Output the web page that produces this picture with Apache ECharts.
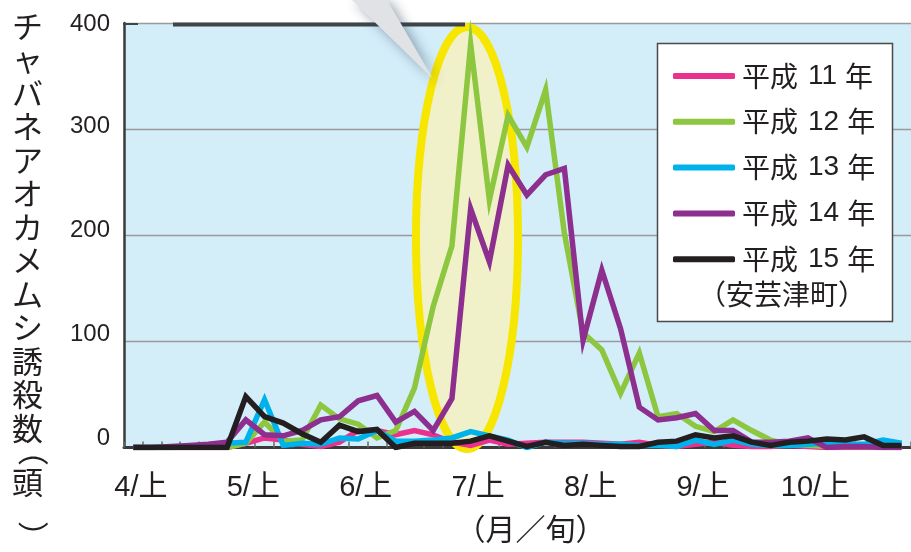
<!DOCTYPE html>
<html><head><meta charset="utf-8">
<script src="https://cdn.jsdelivr.net/npm/echarts@6/dist/echarts.min.js"></script>
<style>html,body{margin:0;padding:0;background:#fff}#c{width:911px;height:552px}</style>
</head><body><div id="c"></div>
<script>
// categories: 半旬 (5-day periods), 6 per month, April–October
const months = [4, 5, 6, 7, 8, 9, 10];
const halfDecadeNames = ['上1', '上2', '中1', '中2', '下1', '下2'];
const monthTickLabels = ['4/上', '5/上', '6/上', '7/上', '8/上', '9/上', '10/上'];
const seriesNames = ['平成11年', '平成12年', '平成13年', '平成14年', '平成15年'];
const h11 = [0,0,0,0,0,0,4,9,7,3,1,5,16,16,12,16,12,5,2,7,3,4,5,5,5,4,3,5,2,1,3,5,2,1,1,2,1,0,0,0,0,0];
const h12 = [0,0,0,0,0,0,4,24,6,7,40,27,22,9,16,56,133,190,380,233,313,283,337,202,108,92,51,89,29,32,20,15,26,16,7,3,2,1,1,1,0,0];
const h13 = [0,0,0,1,2,4,5,45,2,4,3,9,8,16,6,6,7,9,15,11,7,0,5,4,4,3,3,2,2,1,7,3,7,3,2,2,3,4,3,3,7,4];
const h14 = [0,0,1,2,3,5,26,12,11,16,26,29,44,49,24,34,16,46,225,175,266,238,257,263,101,167,112,38,26,28,32,16,16,5,5,6,9,0,1,1,0,0];
const h15 = [0,0,0,0,0,0,48,29,23,13,5,21,15,17,0,4,4,4,6,11,6,1,5,2,3,2,1,1,5,6,12,9,11,5,2,5,6,8,7,10,2,2];
const yTicks = [0, 100, 200, 300, 400];
const yTitle = 'チャバネアオカメムシ誘殺数';
const legendNote = '（安芸津町）';

const categories = [];
months.forEach(m => halfDecadeNames.forEach(h => categories.push(m + '月' + h)));
const values = [h11, h12, h13, h14, h15];
const colors = ['#e9318d', '#8dc63f', '#00b2ec', '#8c2f8e', '#231f20'];

const FONT = "'Liberation Sans','Noto Sans CJK JP',sans-serif";
const CJK = "'Noto Sans CJK JP','Liberation Sans',sans-serif";

const chart = echarts.init(document.getElementById('c'), null, {renderer: 'canvas'});

// small vertical nudges of the y tick labels (as in the printed figure)
const yLabRich = {
  y0: {padding: [0, 0, 18, 0]}, y100: {padding: [0, 0, 14, 0]}, y200: {padding: [0, 0, 10, 0]},
  y300: {padding: [0, 0, 5, 0]}, y400: {padding: [3, 0, 0, 0]}
};

const option = {
  animation: false,
  backgroundColor: '#ffffff',
  color: colors,
  grid: {left: 124, right: 0, top: 23, bottom: 104.5, show: true, backgroundColor: '#d3edf9',
    borderWidth: 0, z: 0, containLabel: false, outerBoundsMode: 'none'},
  xAxis: {
    type: 'category', data: categories, boundaryGap: true,
    axisLine: {show: true, lineStyle: {color: '#3a3a3a', width: 3}},
    axisTick: {show: true, interval: 0, inside: true, length: 6, lineStyle: {color: '#6a6a6a', width: 1.5}},
    axisLabel: {
      interval: i => i % 6 === 0,
      margin: 26,
      formatter: (v, i) => '{s|}{t|' + monthTickLabels[Math.floor(i / 6)] + '}',
      rich: {
        s: {width: 15},
        t: {width: 85, align: 'left', fontSize: 29, fontFamily: FONT, color: '#231f20'}
      }
    },
    name: '（月／旬）', nameLocation: 'middle', nameGap: 66,
    nameTextStyle: {fontSize: 30, fontFamily: CJK, color: '#231f20', padding: [0, 0, 0, 26]}
  },
  yAxis: {
    type: 'value', min: 0, max: 400, interval: 100,
    axisLine: {show: true, lineStyle: {color: '#3a3a3a', width: 2.5}},
    axisTick: {show: false},
    axisLabel: {fontSize: 24, fontFamily: FONT, color: '#231f20', margin: 14,
      formatter: v => (yTicks.indexOf(v) >= 0 ? '{y' + v + '|' + v + '}' : ''),
      rich: yLabRich},
    splitLine: {show: true, lineStyle: {color: '#9a9a9a', width: 1.3}}
  },
  legend: {
    orient: 'vertical', left: 668, top: 56, itemGap: 15.8,
    icon: 'roundRect', itemWidth: 62, itemHeight: 6, selectedMode: false,
    data: seriesNames,
    formatter: n => '{a|' + n.slice(0, 2) + '}{n|' + n.slice(2, -1) + '}{b|' + n.slice(-1) + '}',
    textStyle: {
      color: '#231f20', fontSize: 28, fontFamily: CJK, lineHeight: 30,
      rich: {
        a: {fontSize: 28, fontFamily: CJK, color: '#231f20', padding: [0, 0, 0, 2]},
        n: {fontSize: 28, fontFamily: FONT, color: '#231f20', padding: [0, 8, 0, 10]},
        b: {fontSize: 28, fontFamily: CJK, color: '#231f20'}
      }
    }
  },
  series: seriesNames.map((n, k) => ({
    name: n, type: 'line', data: values[k], symbol: 'none', z: 2 + k * 0.01,
    lineStyle: {width: 5.5, color: colors[k], join: 'miter'}, itemStyle: {color: colors[k]}
  })),
  graphic: [
    {type: 'ellipse', z: 1, shape: {cx: 467, cy: 238, rx: 51, ry: 211},
      style: {fill: '#f1f1c9', stroke: '#f7e600', lineWidth: 8}},
    {type: 'line', z: 3, shape: {x1: 173, y1: 24.5, x2: 465, y2: 24.5}, style: {stroke: '#3f4548', lineWidth: 4}},
    {type: 'line', z: 3, shape: {x1: 123, y1: 24, x2: 138, y2: 24}, style: {stroke: '#3f4548', lineWidth: 2}},
    {type: 'polygon', z: 6, shape: {points: [[350, -2], [386, -2], [433, 79]]},
      style: {fill: '#e1e2e6', shadowBlur: 12, shadowColor: 'rgba(40,60,80,0.45)', shadowOffsetX: 5, shadowOffsetY: 4}},
    {type: 'rect', z: 3, shape: {x: 657.5, y: 43.5, width: 235, height: 278},
      style: {fill: '#ffffff', stroke: '#4a4a4a', lineWidth: 1.5}},
    {type: 'text', z: 5, left: 698, top: 280,
      style: {text: legendNote, font: '28px ' + CJK, fill: '#231f20'}},
    {type: 'text', z: 5, left: 12, top: 9,
      style: {text: yTitle.split('').join('\n'), font: '31px ' + CJK, lineHeight: 33.5, fill: '#231f20'}},
    {type: 'text', z: 5, x: 49, y: 435, rotation: -Math.PI / 2,
      style: {text: '（', font: '31px ' + CJK, fill: '#231f20'}},
    {type: 'text', z: 5, left: 12, top: 467,
      style: {text: '頭', font: '31px ' + CJK, fill: '#231f20'}},
    {type: 'text', z: 5, x: 49, y: 521, rotation: -Math.PI / 2,
      style: {text: '）', font: '31px ' + CJK, fill: '#231f20'}}
  ]
};
chart.setOption(option);
</script></body></html>
